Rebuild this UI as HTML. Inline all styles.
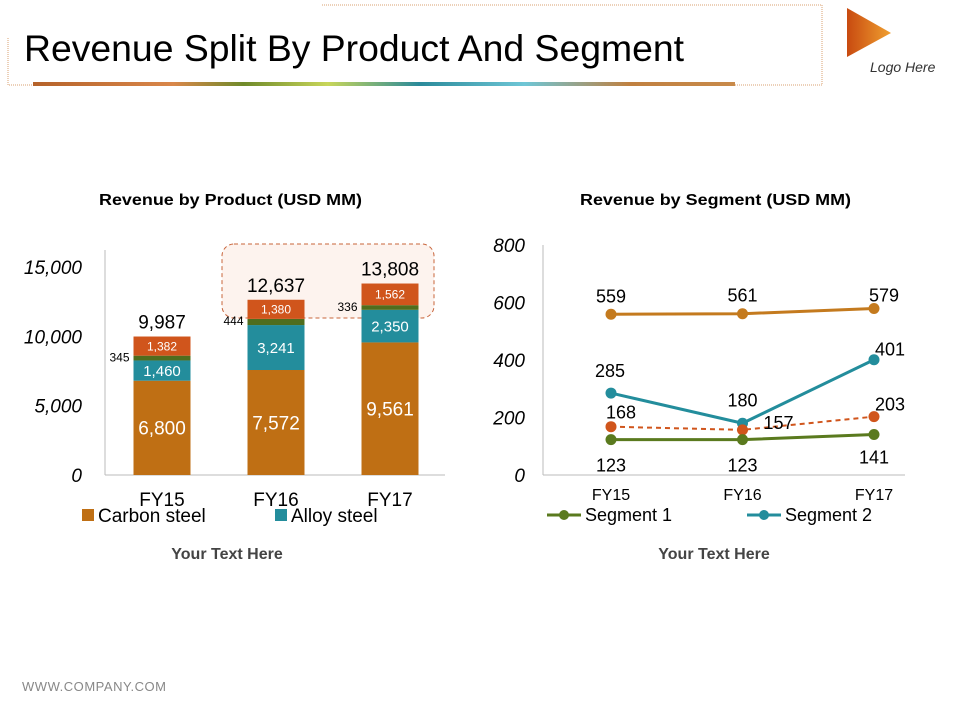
<!DOCTYPE html>
<html><head><meta charset="utf-8"><style>
body{margin:0;background:#fff;font-family:"Liberation Sans",Arial,sans-serif}
#wrap{position:relative;width:960px;height:720px;overflow:hidden}
</style></head><body>
<div id="wrap">
<svg width="960" height="720" style="position:absolute;left:0;top:0">
<defs>
<linearGradient id="rule" x1="0" x2="1"><stop offset="0" stop-color="#b5622a"/><stop offset="0.2" stop-color="#d9874a"/><stop offset="0.3" stop-color="#6f8a2a"/><stop offset="0.42" stop-color="#c8d65a"/><stop offset="0.55" stop-color="#2a8a9a"/><stop offset="0.7" stop-color="#6ec6d6"/><stop offset="0.85" stop-color="#c08040"/><stop offset="1" stop-color="#c88a4a"/></linearGradient>
<linearGradient id="logo" x1="0" x2="1"><stop offset="0" stop-color="#c84a10"/><stop offset="1" stop-color="#f0a030"/></linearGradient>
</defs>
<g>
<path d="M322,5 H822 V85 H8 V38" fill="none" stroke="#d9a070" stroke-dasharray="1,1"/>
<rect x="33" y="82" width="702" height="4" fill="url(#rule)"/>
<text x="24" y="61" font-size="37" textLength="660" lengthAdjust="spacingAndGlyphs" fill="#000">Revenue Split By Product And Segment</text>
<polygon points="847,8 891,33 847,57" fill="url(#logo)"/>
<text x="870" y="72" font-size="14" font-style="italic" fill="#333">Logo Here</text>
</g>
<text x="99" y="205" font-size="16" font-weight="bold" textLength="263" lengthAdjust="spacingAndGlyphs">Revenue by Product (USD MM)</text>
<text x="580" y="205" font-size="16" font-weight="bold" textLength="271" lengthAdjust="spacingAndGlyphs">Revenue by Segment (USD MM)</text>
<rect x="222" y="244" width="212" height="74" rx="12" fill="#fdf3ee" stroke="#c8643a" stroke-dasharray="4,3"/>
<g id="bar"></g>
<g id="line"></g>
<text x="227" y="559" font-size="16" font-weight="bold" fill="#444" text-anchor="middle">Your Text Here</text>
<text x="714" y="559" font-size="16" font-weight="bold" fill="#444" text-anchor="middle">Your Text Here</text>
<text x="22" y="691" font-size="13" textLength="144" fill="#888">WWW.COMPANY.COM</text>
</svg>
</div>
<script>
const NS="http://www.w3.org/2000/svg";
function mk(p,t,a,txt){const e=document.createElementNS(NS,t);for(const k in a)e.setAttribute(k,a[k]);if(txt!==undefined)e.textContent=txt;p.appendChild(e);return e;}
const categories=["FY15","FY16","FY17"];
const carbon=[6800,7572,9561];
const alloy=[1460,3241,2350];
const other=[345,444,336];
const top4=[1382,1380,1562];
const totals=[9987,12637,13808];
const barTicks=[0,5000,10000,15000];
const segCats=["FY15","FY16","FY17"];
const segA=[559,561,579];
const segB=[285,180,401];
const segC=[168,157,203];
const seg1=[123,123,141];
const lineTicks=[0,200,400,600,800];
const fmt=v=>v.toLocaleString("en-US");

// bar chart
const bg=document.getElementById("bar");
const by=v=>475-v*208/15000, bx=i=>162+i*114, bw=57;
mk(bg,"line",{x1:105,y1:250,x2:105,y2:475,stroke:"#bbb"});
mk(bg,"line",{x1:105,y1:475,x2:445,y2:475,stroke:"#bbb"});
barTicks.forEach(t=>{const e=mk(bg,"text",{x:82,y:by(t)+7,"font-size":19,"font-style":"italic","text-anchor":"end"},fmt(t));

});
const stacks=[[carbon,"#bf6f14","#fff",19],[alloy,"#238d9c","#fff",15],[other,"#4f6d1e",null,0],[top4,"#d0551c","#fff",12]];
categories.forEach((c,i)=>{let base=0;
stacks.forEach(([arr,col,tc,fs],k)=>{const v=arr[i];
const r=mk(bg,"rect",{x:bx(i)-bw/2,y:by(base+v),width:bw,height:by(base)-by(base+v),fill:col});


if(tc){const t=mk(bg,"text",{x:bx(i),y:(by(base)+by(base+v))/2+fs*0.36,"font-size":fs,fill:tc,"text-anchor":"middle"},fmt(v));

}
base+=v;});
const o=mk(bg,"text",{x:bx(i)-bw/2-4,y:by(carbon[i]+alloy[i]+other[i])+6,"font-size":12,"text-anchor":"end"},fmt(other[i]));


const tt=mk(bg,"text",{x:bx(i),y:by(totals[i])-8,"font-size":19,"text-anchor":"middle"},fmt(totals[i]));


const xl=mk(bg,"text",{x:bx(i),y:506,"font-size":19,"text-anchor":"middle"},c);

});
[[82,"#bf6f14","Carbon steel"],[275,"#238d9c","Alloy steel"]].forEach(([x,col,l])=>{
const g=mk(bg,"g",{});
mk(g,"rect",{x:x,y:509,width:12,height:12,fill:col});mk(g,"text",{x:x+16,y:522,"font-size":19},l);});

// line chart
const lg=document.getElementById("line");
const ly=v=>475-v*230/800, lx=i=>611+i*131.5;
mk(lg,"line",{x1:543,y1:245,x2:543,y2:475,stroke:"#bbb"});
mk(lg,"line",{x1:543,y1:475,x2:905,y2:475,stroke:"#bbb"});
lineTicks.forEach(t=>{const e=mk(lg,"text",{x:525,y:ly(t)+7,"font-size":19,"font-style":"italic","text-anchor":"end"},t);

});
segCats.forEach((c,i)=>{const e=mk(lg,"text",{x:lx(i),y:500,"font-size":16,"text-anchor":"middle"},c);

});
const series=[[segA,"#c47a1e",false,"series-a"],[segB,"#238d9c",false,"segment-2"],[segC,"#d0551c",true,"series-c"],[seg1,"#5a7a1e",false,"segment-1"]];
const labOff={"segment-2":[[-1,-16],[0,-17],[16,-4]],"series-c":[[10,-8],[36,-1],[16,-6]],"series-a":[[0,-12],[0,-12],[10,-7]],"segment-1":[[0,32],[0,32],[0,29]]};
series.forEach(([arr,col,dash,name])=>{
const p=mk(lg,"polyline",{points:arr.map((v,i)=>lx(i)+","+ly(v)).join(" "),fill:"none",stroke:col,"stroke-width":dash?2:3,"stroke-dasharray":dash?"5,4":"none"});


arr.forEach((v,i)=>{const c=mk(lg,"circle",{cx:lx(i),cy:ly(v),r:5.5,fill:col});


const o=labOff[name][i];
const t=mk(lg,"text",{x:lx(i)+o[0],y:ly(v)+o[1],"font-size":18,"text-anchor":"middle"},v);

});});
[[547,"#5a7a1e","Segment 1"],[747,"#238d9c","Segment 2"]].forEach(([x,col,l])=>{
const g=mk(lg,"g",{});
mk(g,"line",{x1:x,y1:515,x2:x+34,y2:515,stroke:col,"stroke-width":3});mk(g,"circle",{cx:x+17,cy:515,r:5,fill:col});
mk(g,"text",{x:x+38,y:521,"font-size":18},l);});
</script>
</body></html>
